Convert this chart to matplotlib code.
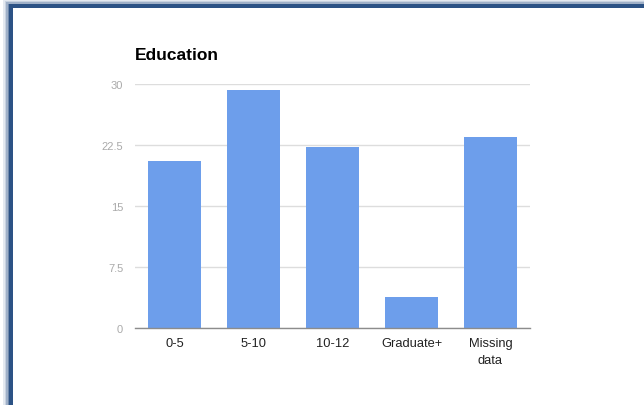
import matplotlib
matplotlib.use("Agg")
import matplotlib.pyplot as plt
from matplotlib.patches import Rectangle

categories = ["0-5", "5-10", "10-12", "Graduate+", "Missing\ndata"]
values = [20.55, 29.3, 22.35, 3.9, 23.5]
yticks = [0, 7.5, 15, 22.5, 30]
ytick_labels = ["0", "7.5", "15", "22.5", "30"]

W, H = 644, 406
fig = plt.figure(figsize=(W / 100, H / 100), dpi=100)
fig.patch.set_facecolor("white")
plt.rcParams['font.family'] = ['Liberation Sans', 'DejaVu Sans']

def px(x0, y0, x1, y1):
    return (x0 / W, 1 - y1 / H, (x1 - x0) / W, (y1 - y0) / H)

# window frame (left and top border with soft shadow)
shadow = [(3, "#e4e9f0"), (4.5, "#c8d2e0"), (6, "#9fb0c8"), (7.5, "#6f88ab")]
for off, col in shadow:
    l, b, w, h = px(off, off - 3, W + 5, H + 5)
    fig.patches.append(Rectangle((l, b), w, h, transform=fig.transFigure,
                                 facecolor=col, edgecolor="none", zorder=-3))
l, b, w, h = px(9, 5, W + 5, H + 5)
fig.patches.append(Rectangle((l, b), w, h, transform=fig.transFigure,
                             facecolor="#2c5285", edgecolor="none", zorder=-2))
l, b, w, h = px(12.7, 8.7, W + 5, H + 5)
fig.patches.append(Rectangle((l, b), w, h, transform=fig.transFigure,
                             facecolor="white", edgecolor="none", zorder=-1))

ax = fig.add_axes(px(135, 85.3, 530, 329.3))
ax.set_zorder(2)
ax.set_facecolor("none")
x = list(range(len(categories)))
ax.bar(x, values, width=0.66, color="#6d9eeb", zorder=3)
ax.set_xlim(-0.5, len(categories) - 0.5)
ax.set_ylim(0, 30)
ax.set_yticks(yticks)
ax.set_yticklabels(ytick_labels)
ax.yaxis.grid(True, color="#dddddd", linewidth=1, zorder=0)
for s in ["top", "right", "left"]:
    ax.spines[s].set_visible(False)
ax.spines["bottom"].set_color("#8c8c8c")
ax.spines["bottom"].set_linewidth(1)
ax.spines["bottom"].set_zorder(4)
ax.tick_params(axis="y", length=0, pad=8.5, labelsize=8, labelcolor="#aaaaaa")
ax.tick_params(axis="x", length=0, pad=6, labelsize=9.3, labelcolor="#222222")
ax.set_xticks(x)
ax.set_xticklabels(categories, linespacing=1.55)

fig.text(135 / W, 1 - 55 / H, "Education", fontsize=12.5, fontweight="bold",
         color="#000000", ha="left", va="center", zorder=5)

fig.savefig("out.png", dpi=100, facecolor="white")
